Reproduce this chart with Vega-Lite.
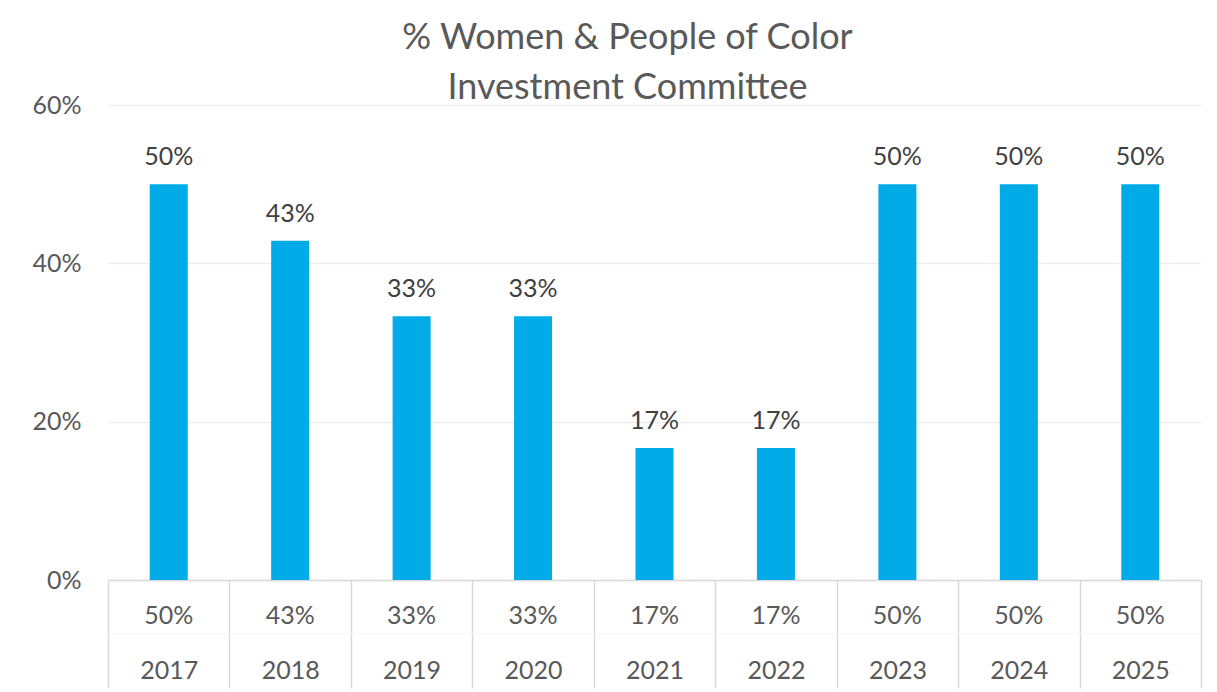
{
  "$schema": "https://vega.github.io/schema/vega-lite/v6.json",
  "width": 1093,
  "height": 475,
  "autosize": {"type": "none"},
  "padding": {"left": 108, "top": 105, "right": 16, "bottom": 112},
  "background": "white",
  "config": {"view": {"stroke": null}},
  "title": {
    "text": ["% Women & People of Color", "Investment Committee"],
    "font": "Lato",
    "fontSize": 36,
    "fontWeight": "normal",
    "color": "#595959",
    "anchor": "middle",
    "frame": "group",
    "dx": -27,
    "lineHeight": 50,
    "baseline": "top",
    "offset": -14
  },
  "data": {
    "values": [
      {"year": "2017", "value": 0.5},
      {"year": "2018", "value": 0.4286},
      {"year": "2019", "value": 0.3333},
      {"year": "2020", "value": 0.3333},
      {"year": "2021", "value": 0.1667},
      {"year": "2022", "value": 0.1667},
      {"year": "2023", "value": 0.5},
      {"year": "2024", "value": 0.5},
      {"year": "2025", "value": 0.5}
    ]
  },
  "layer": [
    {
      "mark": {"type": "bar", "color": "#00ABE8", "width": {"band": 0.313}},
      "encoding": {
        "x": {
          "field": "year",
          "type": "ordinal",
          "scale": {"paddingInner": 0, "paddingOuter": 0},
          "axis": {
            "title": null,
            "orient": "bottom",
            "labelAngle": 0,
            "labelFont": "Lato",
            "labelFontSize": 25,
            "labelColor": "#595959",
            "labelBaseline": "alphabetic",
            "labelPadding": -10,
            "domainColor": "#d9d9d9",
            "domainWidth": 1.5,
            "tickColor": "#d9d9d9",
            "tickWidth": 1.5,
            "tickSize": 108,
            "tickBand": "extent",
            "grid": false
          }
        },
        "y": {
          "field": "value",
          "type": "quantitative",
          "scale": {"domain": [0, 0.6]},
          "axis": {
            "title": null,
            "values": [0, 0.2, 0.4, 0.6],
            "format": ".0%",
            "labelFont": "Lato",
            "labelFontSize": 25,
            "labelColor": "#595959",
            "labelPadding": 27,
            "domain": false,
            "ticks": false,
            "gridColor": "#ededed",
            "gridWidth": 1.5
          }
        }
      }
    },
    {
      "mark": {"type": "text", "font": "Lato", "fontSize": 25, "color": "#404040", "baseline": "alphabetic", "dy": -19},
      "encoding": {
        "x": {"field": "year", "type": "ordinal"},
        "y": {"field": "value", "type": "quantitative"},
        "text": {"field": "value", "format": ".0%"}
      }
    },
    {
      "mark": {"type": "text", "font": "Lato", "fontSize": 25, "color": "#595959", "baseline": "alphabetic", "clip": false},
      "encoding": {
        "x": {"field": "year", "type": "ordinal"},
        "y": {"datum": -0.0556},
        "text": {"field": "value", "format": ".0%"}
      }
    },
    {
      "data": {"values": [{"sep": -0.0682}]},
      "mark": {"type": "rule", "color": "#f5f5f5", "strokeWidth": 1},
      "encoding": {
        "y": {"field": "sep", "type": "quantitative"}
      }
    }
  ]
}
